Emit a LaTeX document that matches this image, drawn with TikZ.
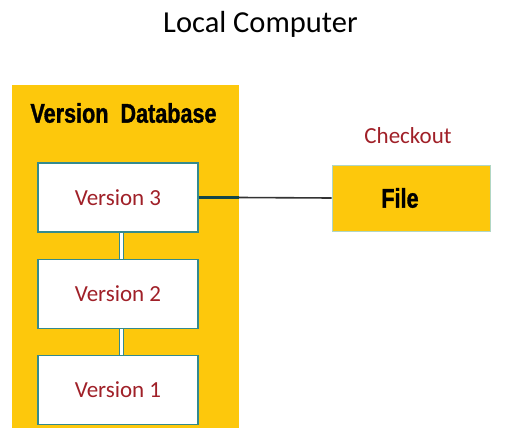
\documentclass[tikz,border=0pt]{standalone}
\usepackage{fontspec}
\setmainfont{Carlito}
\newfontfamily\narrowfont[FakeStretch=0.8, BoldFeatures={FakeBold=1.2}]{Liberation Sans}
\usepackage{xcolor}
\usepackage{tikz}
\usetikzlibrary{
    positioning
}
\definecolor{dbyellow}{RGB}{253,200,12}
\definecolor{boxteal}{RGB}{52,138,142}
\definecolor{verred}{RGB}{160,32,40}
\definecolor{filerim}{RGB}{176,214,196}
\definecolor{linkteal}{RGB}{20,70,72}
\tikzstyle{verbox} = [
    rectangle, draw=boxteal,
    line width=1.2pt,
    minimum width=160pt,
    minimum height=69pt,
    fill=white,
    text=verred,
    font=\fontsize{23}{27}\selectfont
]
\tikzstyle{boldtxt} = [
    font=\narrowfont\bfseries\fontsize{27}{31}\selectfont,
    text=black
]
\tikzstyle{vlink} = [
    draw=boxteal,
    line width=1pt,
    double=white,
    double distance=2.4pt
]

\begin{document}
\begin{tikzpicture}[
        x=1pt, y=-1pt, inner sep=0pt
    ]
    \useasboundingbox (0,0) rectangle (506,442);
    \node at (260.5,24) {\fontsize{30.5}{34}\selectfont Local Computer};
    % version database
    \node[rectangle, fill=dbyellow, minimum width=227pt, minimum height=343pt] (db) at (125.5,256.5) {};
    \node[boldtxt] (dbtitle) at (123.5,113) {Version\ \ Database};
    \node[verbox] (v3) at (118,197.5) {Version 3};
    \node[verbox, below=26pt of v3] (v2) {Version 2};
    \node[verbox, below=26pt of v2] (v1) {Version 1};
    \draw[vlink] ([xshift=3.5pt]v3.south) -- ([xshift=3.5pt]v2.north);
    \draw[vlink] ([xshift=3.5pt]v2.south) -- ([xshift=3.5pt]v1.north);
    % checkout
    \node[rectangle, draw=filerim, line width=0.8pt, fill=dbyellow,
        minimum width=158pt, minimum height=66pt,
        label={[boldtxt, xshift=-11pt]center:File}] (file) at (411,198) {};
    \node[text=verred, font=\fontsize{23}{27}\selectfont] (checkout) at (408,136) {Checkout};
    \draw[linkteal, line width=3pt] (v3.east) -- (v3.east -| db.east);
    \draw[black!80, line width=1.6pt] (v3.east -| db.east) -- (file.west);
\end{tikzpicture}
\end{document}
